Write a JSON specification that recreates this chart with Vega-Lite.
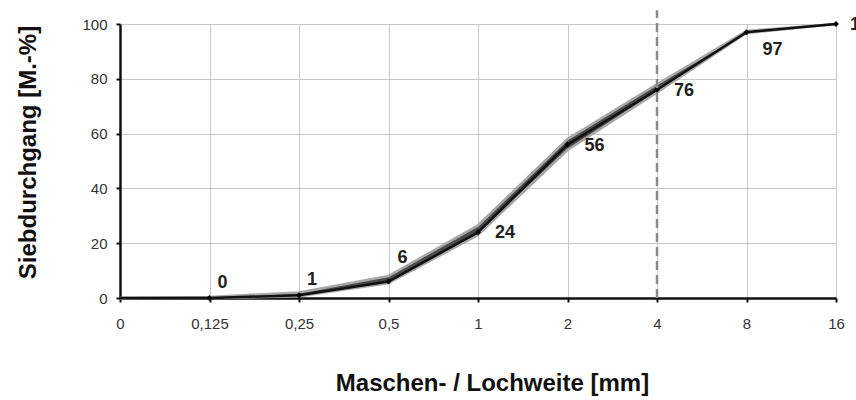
{
  "$schema": "https://vega.github.io/schema/vega-lite/v6.json",
  "width": 716,
  "height": 274,
  "autosize": "none",
  "padding": {"left": 120, "top": 24, "right": 20, "bottom": 102},
  "background": "white",
  "config": {
    "view": {"stroke": null},
    "font": "Liberation Sans"
  },
  "data": {
    "values": [
      {"x": "0", "main": 0, "upper": 0, "lower": 0, "lab": null},
      {"x": "0,125", "main": 0, "upper": 0.4, "lower": 0, "lab": "0", "grp": "a"},
      {"x": "0,25", "main": 1, "upper": 2, "lower": 0.6, "lab": "1", "grp": "a"},
      {"x": "0,5", "main": 6, "upper": 8, "lower": 5.5, "lab": "6", "grp": "e"},
      {"x": "1", "main": 24, "upper": 26.5, "lower": 23, "lab": "24", "grp": "b"},
      {"x": "2", "main": 56, "upper": 58, "lower": 54, "lab": "56", "grp": "b"},
      {"x": "4", "main": 76, "upper": 78, "lower": 75, "lab": "76", "grp": "b"},
      {"x": "8", "main": 97, "upper": 97.5, "lower": 96.7, "lab": "97", "grp": "c"},
      {"x": "16", "main": 100, "upper": 100, "lower": 100, "lab": "100", "grp": "d"}
    ]
  },
  "encoding": {
    "x": {
      "field": "x", "type": "ordinal",
      "sort": null,
      "scale": {"type": "point", "padding": 0},
      "axis": {
        "title": "Maschen- / Lochweite [mm]",
        "titleFont": "Liberation Sans", "titleFontSize": 24, "titleFontWeight": "bold",
        "titleColor": "#111", "titleX": 372, "titleY": 85, "titleBaseline": "middle",
        "labelAngle": 0, "labelFontSize": 15, "labelColor": "#333", "labelPadding": 14,
        "tickSize": 4, "tickColor": "#111", "tickWidth": 2,
        "domainColor": "#111", "domainWidth": 2.5,
        "grid": true, "gridColor": "#c8c8c8", "gridWidth": 1
      }
    }
  },
  "layer": [
    {
      "mark": {"type": "area", "color": "#4a4a4a", "opacity": 1},
      "encoding": {
        "y": {
          "field": "upper", "type": "quantitative",
          "scale": {"domain": [0, 100]},
          "axis": {
            "values": [0, 20, 40, 60, 80, 100],
            "title": "Siebdurchgang [M.-%]",
            "titleFont": "Liberation Sans", "titleFontSize": 24, "titleFontWeight": "bold",
            "titleColor": "#111", "titleX": -92, "titleY": 128, "titleBaseline": "middle",
            "labelFontSize": 15, "labelColor": "#333", "labelPadding": 9,
            "tickSize": 4, "tickColor": "#111", "tickWidth": 2,
            "domainColor": "#111", "domainWidth": 2.5,
            "grid": true, "gridColor": "#c8c8c8", "gridWidth": 1
          }
        },
        "y2": {"field": "lower"}
      }
    },
    {
      "mark": {"type": "line", "color": "#a8a8a8", "strokeWidth": 2.5},
      "encoding": {"y": {"field": "upper", "type": "quantitative"}}
    },
    {
      "mark": {"type": "line", "color": "#a8a8a8", "strokeWidth": 2.5},
      "encoding": {"y": {"field": "lower", "type": "quantitative"}}
    },
    {
      "mark": {"type": "line", "color": "#111", "strokeWidth": 2.5},
      "encoding": {"y": {"field": "main", "type": "quantitative"}}
    },
    {
      "mark": {"type": "point", "shape": "diamond", "filled": true, "color": "#000", "size": 35, "opacity": 1},
      "transform": [{"filter": "datum.x !== '0'"}],
      "encoding": {"y": {"field": "main", "type": "quantitative"}}
    },
    {
      "data": {"values": [{"x": "4", "y0": 0, "y1": 105}]},
      "mark": {"type": "rule", "color": "#8a8a8a", "strokeWidth": 2.5, "strokeDash": [9, 5], "clip": false},
      "encoding": {
        "y": {"field": "y0", "type": "quantitative"},
        "y2": {"field": "y1"}
      }
    },
    {
      "transform": [{"filter": "datum.grp === 'a'"}],
      "mark": {"type": "text", "fontSize": 18, "fontWeight": "bold", "color": "#222", "dx": 13, "dy": -15, "align": "center", "baseline": "middle"},
      "encoding": {"y": {"field": "main", "type": "quantitative"}, "text": {"field": "lab"}}
    },
    {
      "transform": [{"filter": "datum.grp === 'e'"}],
      "mark": {"type": "text", "fontSize": 18, "fontWeight": "bold", "color": "#222", "dx": 14, "dy": -24, "align": "center", "baseline": "middle"},
      "encoding": {"y": {"field": "main", "type": "quantitative"}, "text": {"field": "lab"}}
    },
    {
      "transform": [{"filter": "datum.grp === 'b'"}],
      "mark": {"type": "text", "fontSize": 18, "fontWeight": "bold", "color": "#222", "dx": 27, "dy": 1, "align": "center", "baseline": "middle"},
      "encoding": {"y": {"field": "main", "type": "quantitative"}, "text": {"field": "lab"}}
    },
    {
      "transform": [{"filter": "datum.grp === 'c'"}],
      "mark": {"type": "text", "fontSize": 18, "fontWeight": "bold", "color": "#222", "dx": 26, "dy": 18, "align": "center", "baseline": "middle"},
      "encoding": {"y": {"field": "main", "type": "quantitative"}, "text": {"field": "lab"}}
    },
    {
      "transform": [{"filter": "datum.grp === 'd'"}],
      "mark": {"type": "text", "fontSize": 18, "fontWeight": "bold", "color": "#222", "dx": 14, "dy": 1, "align": "left", "baseline": "middle", "clip": false},
      "encoding": {"y": {"field": "main", "type": "quantitative"}, "text": {"field": "lab"}}
    }
  ]
}
